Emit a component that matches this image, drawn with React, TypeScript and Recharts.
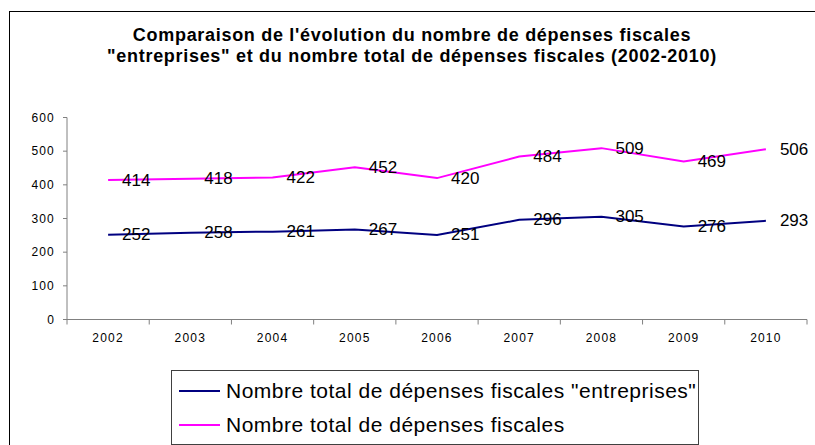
import React from 'react';
import { LineChart, Line, XAxis, YAxis, LabelList } from 'recharts';

const years = ['2002', '2003', '2004', '2005', '2006', '2007', '2008', '2009', '2010'];
const entreprises = [252, 258, 261, 267, 251, 296, 305, 276, 293];
const totales = [414, 418, 422, 452, 420, 484, 509, 469, 506];
const yTicks = [0, 100, 200, 300, 400, 500, 600];

const titleLines = [
  "Comparaison de l'évolution du nombre de dépenses fiscales",
  '"entreprises" et du nombre total de dépenses fiscales (2002-2010)',
];
const series = [
  { key: 'entreprises', name: 'Nombre total de dépenses fiscales "entreprises"', color: '#000080' },
  { key: 'totales', name: 'Nombre total de dépenses fiscales', color: '#FF00FF' },
];

const data = years.map((y, i) => ({ year: y, entreprises: entreprises[i], totales: totales[i] }));

const W = 815;
const H = 445;
const PLOT_LEFT = 67;
const PLOT_RIGHT = 807;
const HALF_BAND = (PLOT_RIGHT - PLOT_LEFT) / years.length / 2;
const FONT = '"Liberation Sans", Arial, sans-serif';

const XTick = (props: any) => {
  const { x, y, payload, index } = props;
  const axisY = y - 8;
  return (
    <g>
      <line x1={x - HALF_BAND} y1={axisY} x2={x - HALF_BAND} y2={axisY + 5} stroke="#808080" strokeWidth={1} />
      {index === years.length - 1 && (
        <line x1={x + HALF_BAND} y1={axisY} x2={x + HALF_BAND} y2={axisY + 5} stroke="#808080" strokeWidth={1} />
      )}
      <text x={x} y={axisY + 18} textAnchor="middle" dominantBaseline="central" fontSize={12} letterSpacing={1.2} fill="#000" fontFamily={FONT}>
        {payload.value}
      </text>
    </g>
  );
};

const PointLabel = (props: any) => {
  const { x, y, value } = props;
  return (
    <text x={x + 14} y={y} dominantBaseline="central" textAnchor="start" fontSize={17} fill="#000" fontFamily={FONT}>
      {value}
    </text>
  );
};

export default function App() {
  return (
    <div style={{ position: 'absolute', left: 0, top: 0, width: W, height: H, overflow: 'hidden', background: '#fff' }}>
      <div
        style={{
          position: 'absolute',
          left: 9,
          top: 11,
          width: 900,
          height: 600,
          borderLeft: '1.5px solid #000',
          borderTop: '1.5px solid #000',
        }}
      />
      <div
        style={{
          position: 'absolute',
          left: 0,
          top: 25,
          width: 824,
          textAlign: 'center',
          fontFamily: FONT,
          fontWeight: 'bold',
          fontSize: 18,
          letterSpacing: 0.7,
          lineHeight: '21px',
          color: '#000',
        }}
      >
        {titleLines.map((l) => (
          <div key={l}>{l}</div>
        ))}
      </div>
      <div style={{ position: 'absolute', left: 0, top: 0 }}>
        <LineChart width={W} height={H} data={data} margin={{ top: 117.5, right: W - PLOT_RIGHT, bottom: 95.5, left: 7 }}>
          <XAxis
            dataKey="year"
            padding={{ left: HALF_BAND, right: HALF_BAND }}
            stroke="#808080"
            tickLine={false}
            tick={<XTick />}
            height={30}
            interval={0}
          />
          <YAxis
            domain={[0, 600]}
            ticks={yTicks}
            width={60}
            stroke="#808080"
            tickSize={4}
            tickMargin={8}
            tick={{ fill: '#000', fontSize: 12, fontFamily: FONT, letterSpacing: 1.2 }}
            interval={0}
          />
          {series.map((s) => (
            <Line
              key={s.key}
              type="linear"
              dataKey={s.key}
              name={s.name}
              stroke={s.color}
              strokeWidth={2}
              dot={false}
              activeDot={false}
              isAnimationActive={false}
            >
              <LabelList dataKey={s.key} content={<PointLabel />} />
            </Line>
          ))}
        </LineChart>
      </div>
      <div
        style={{
          position: 'absolute',
          left: 171,
          top: 370,
          boxSizing: 'border-box',
          width: 528,
          height: 75,
          border: '1px solid #404040',
          padding: '3px 0 0 7px',
          fontFamily: FONT,
          fontSize: 21,
          letterSpacing: 0.5,
          background: '#fff',
        }}
      >
        {series.map((s) => (
          <div key={s.key} style={{ display: 'flex', alignItems: 'center', height: 34 }}>
            <span style={{ display: 'inline-block', width: 41, height: 0, borderTop: `2px solid ${s.color}`, marginRight: 6 }} />
            <span style={{ color: '#000', whiteSpace: 'nowrap' }}>{s.name}</span>
          </div>
        ))}
      </div>
    </div>
  );
}
